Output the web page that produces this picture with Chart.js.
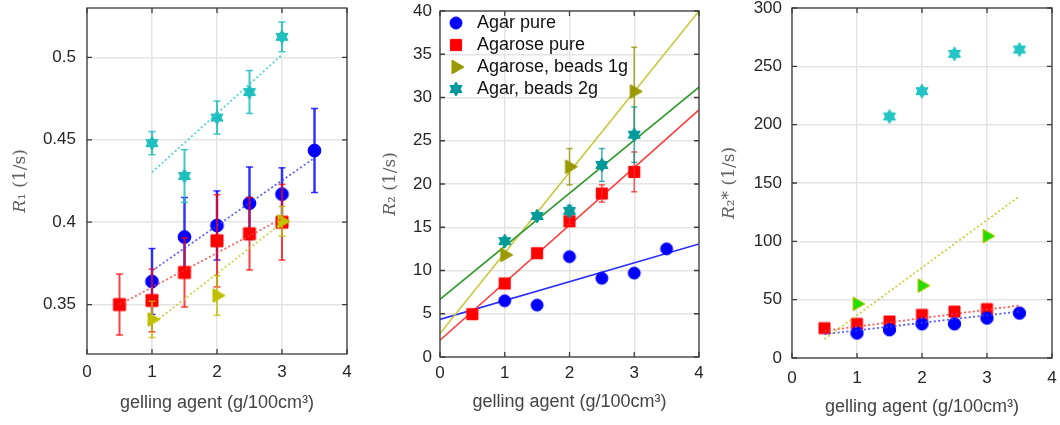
<!DOCTYPE html>
<html>
<head>
<meta charset="utf-8">
<script src="https://cdn.jsdelivr.net/npm/chart.js@4.4.1/dist/chart.umd.min.js"></script>
<style>
  html, body { margin: 0; padding: 0; background: #fff; }
  body { width: 1060px; height: 425px; position: relative; overflow: hidden; }
  canvas { position: absolute; top: 0; }
  #c1 { left: 0; }
  #c2 { left: 355px; }
  #c3 { left: 707px; }
</style>
</head>
<body>
<canvas id="c1" width="355" height="425"></canvas>
<canvas id="c2" width="352" height="425"></canvas>
<canvas id="c3" width="353" height="425"></canvas>
<script>
// ---- data ----
const xTicks = [0, 1, 2, 3, 4];

// left panel: R1
const r1Ticks = [0.35, 0.4, 0.45, 0.5];
const r1AgarX = [1, 1.5, 2, 2.5, 3, 3.5];
const r1AgarY = [0.364, 0.391, 0.398, 0.4115, 0.417, 0.4435];
const r1AgarErr = [0.020, 0.024, 0.021, 0.022, 0.016, 0.0255];
const r1RoseX = [0.5, 1, 1.5, 2, 2.5, 3];
const r1RoseY = [0.350, 0.3525, 0.3695, 0.3887, 0.393, 0.400];
const r1RoseErr = [0.0185, 0.019, 0.021, 0.028, 0.022, 0.023];
const r1Beads1X = [1, 2, 3];
const r1Beads1Y = [0.341, 0.3555, 0.4005];
const r1Beads1Err = [0.011, 0.012, 0.009];
const r1Beads2X = [1, 1.5, 2, 2.5, 3];
const r1Beads2Y = [0.448, 0.428, 0.4635, 0.479, 0.5125];
const r1Beads2Err = [0.007, 0.016, 0.010, 0.013, 0.009];
const r1FitAgar = { x: [1, 3.5], y: [0.3705, 0.4390] };
const r1FitRose = { x: [0.5, 3], y: [0.350, 0.4022] };
const r1FitBeads1 = { x: [1, 3], y: [0.338, 0.3996] };
const r1FitBeads2 = { x: [1, 3], y: [0.4303, 0.5016] };

// middle panel: R2
const r2Ticks = [0, 5, 10, 15, 20, 25, 30, 35, 40];
const r2AgarX = [1, 1.5, 2, 2.5, 3, 3.5];
const r2AgarY = [6.5, 6.0, 11.6, 9.1, 9.7, 12.5];
const r2RoseX = [0.5, 1, 1.5, 2, 2.5, 3];
const r2RoseY = [4.95, 8.5, 12.0, 15.7, 18.9, 21.4];
const r2RoseErr = [0, 0, 0, 0.4, 1.0, 2.3];
const r2Beads1X = [1, 2, 3];
const r2Beads1Y = [11.8, 22.0, 30.7];
const r2Beads1Err = [0, 2.1, 5.1];
const r2Beads2X = [1, 1.5, 2, 2.5, 3];
const r2Beads2Y = [13.4, 16.3, 16.9, 22.2, 25.7];
const r2Beads2Err = [0, 0, 0.6, 1.9, 3.2];
const r2FitAgar = { x: [0, 4], y: [4.35, 13.07] };
const r2FitRose = { x: [0, 4], y: [1.94, 28.57] };
const r2FitBeads1 = { x: [0, 4], y: [2.71, 40.0] };
const r2FitBeads2 = { x: [0, 4], y: [6.67, 31.2] };

// right panel: R2*
const r2sTicks = [0, 50, 100, 150, 200, 250, 300];
const r2sAgarX = [1, 1.5, 2, 2.5, 3, 3.5];
const r2sAgarY = [21.4, 24.2, 29.3, 29.3, 34.2, 38.5];
const r2sRoseX = [0.5, 1, 1.5, 2, 2.5, 3];
const r2sRoseY = [25.6, 29.3, 31.3, 37.0, 39.8, 41.9];
const r2sBeads1X = [1, 2, 3];
const r2sBeads1Y = [46.4, 62.0, 104.5];
const r2sBeads2X = [1.5, 2, 2.5, 3.5];
const r2sBeads2Y = [207, 228.7, 260.7, 264.4];
const r2sFitAgar = { x: [0.5, 3.5], y: [20.5, 39.8] };
const r2sFitRose = { x: [0.5, 3.5], y: [23.3, 45.0] };
const r2sFitBeads1 = { x: [0.5, 3.5], y: [16.2, 138.7] };

// ---- styling helpers ----
const FONT = 'Liberation Sans, Arial, Helvetica, sans-serif';
const SERIF = 'DejaVu Serif, Liberation Serif, serif';
const TICK = '#262626';
const LABEL = '#444444';

// MATLAB-like marker drawn once into a small canvas, used as pointStyle
function marker(shape, r, fill, stroke) {
    const s = Math.ceil(2 * r + 4);
    const c = document.createElement('canvas');
    c.width = c.height = s;
    const g = c.getContext('2d');
    g.translate(s / 2, s / 2);
    g.beginPath();
    if (shape === 'circle') {
        g.arc(0, 0, r, 0, 2 * Math.PI);
    } else if (shape === 'square') {
        g.rect(-r, -r, 2 * r, 2 * r);
    } else if (shape === 'triangle') {
        g.moveTo(r, 0);
        g.lineTo(-r / 2, -r * 0.866);
        g.lineTo(-r / 2, r * 0.866);
        g.closePath();
    } else {
        for (let k = 0; k < 12; k++) {
            const a = -Math.PI / 2 + k * Math.PI / 6;
            const q = k % 2 ? r / Math.sqrt(3) : r;
            g.lineTo(q * Math.cos(a), q * Math.sin(a));
        }
        g.closePath();
    }
    g.fillStyle = fill;
    g.fill();
    g.lineWidth = 1;
    g.strokeStyle = stroke || fill;
    g.stroke();
    return c;
}

const pts = (xs, ys) => xs.map((x, i) => ({ x, y: ys[i] }));

function markSet(label, xs, ys, img, color, order) {
    return {
        label, data: pts(xs, ys), order,
        pointStyle: img, pointRadius: 7,
        backgroundColor: color, borderColor: color
    };
}

function errSet(xs, ys, errs, color, width, cap, order) {
    const data = [];
    xs.forEach((x, i) => {
        if (!errs[i]) return;
        data.push({ x, y: ys[i] - errs[i] }, { x, y: ys[i] + errs[i] }, { x, y: null });
    });
    return {
        data, order, showLine: true, spanGaps: false,
        borderColor: color, borderWidth: width,
        pointStyle: 'line', pointRadius: cap,
        pointBorderColor: color, pointBorderWidth: 1.5
    };
}

function fitSet(fit, color, width, dash, order) {
    return {
        data: pts(fit.x, fit.y), order, showLine: true,
        borderColor: color, borderWidth: width, borderDash: dash,
        pointRadius: 0
    };
}

// box round the plot area with inward ticks on all four sides
const framePlugin = {
    id: 'frame',
    afterDraw(chart) {
        const { ctx, chartArea: a, scales: { x, y } } = chart;
        ctx.save();
        ctx.strokeStyle = '#3c3c3c';
        ctx.lineWidth = 1.3;
        ctx.strokeRect(a.left, a.top, a.width, a.height);
        ctx.beginPath();
        x.ticks.forEach(t => {
            const px = x.getPixelForValue(t.value);
            ctx.moveTo(px, a.bottom); ctx.lineTo(px, a.bottom - 5);
            ctx.moveTo(px, a.top); ctx.lineTo(px, a.top + 5);
        });
        y.ticks.forEach(t => {
            const py = y.getPixelForValue(t.value);
            ctx.moveTo(a.left, py); ctx.lineTo(a.left + 5, py);
            ctx.moveTo(a.right, py); ctx.lineTo(a.right - 5, py);
        });
        ctx.stroke();
        ctx.restore();
    }
};

// a 'chartArea' legend gets top = 0 for vertical lists; pin it to the plot box
const legendInBox = {
    id: 'legendInBox',
    afterLayout(chart) {
        const lg = chart.legend;
        if (!lg || !lg.options.display) return;
        lg.top = chart.chartArea.top - 1;
        lg.bottom = lg.top + lg.height;
    }
};

function panel(id, p) {
    return new Chart(document.getElementById(id), {
        type: 'scatter',
        data: { datasets: p.datasets },
        plugins: [framePlugin, legendInBox],
        options: {
            responsive: false,
            animation: false,
            events: [],
            layout: { padding: { top: p.top, right: p.right, left: 0, bottom: 0 } },
            plugins: {
                legend: p.legend || { display: false },
                tooltip: { enabled: false }
            },
            scales: {
                x: {
                    type: 'linear', min: 0, max: 4,
                    afterBuildTicks: s => { s.ticks = xTicks.map(v => ({ value: v })); },
                    afterFit: s => { s.height = p.xHeight; s.paddingLeft = 0; s.paddingRight = 0; },
                    grid: { color: '#e4e4e4', lineWidth: 1.5, drawTicks: false },
                    border: { display: false },
                    ticks: { color: TICK, font: { family: FONT, size: 17 }, padding: p.xTickPad, maxRotation: 0 },
                    title: {
                        display: true, text: 'gelling agent (g/100cm³)', color: LABEL,
                        font: { family: FONT, size: 18 }, padding: { top: 0, bottom: p.xTitlePad }
                    }
                },
                y: {
                    type: 'linear', min: p.yMin, max: p.yMax,
                    afterBuildTicks: s => { s.ticks = p.yTicks.map(v => ({ value: v })); },
                    afterFit: s => { s.width = p.yWidth; s.paddingTop = 0; s.paddingBottom = 0; },
                    grid: { color: '#e4e4e4', lineWidth: 1.5, drawTicks: false },
                    border: { display: false },
                    ticks: {
                        color: TICK, font: { family: FONT, size: 17 }, padding: p.yTickPad,
                        callback: v => String(+v.toFixed(2))
                    },
                    title: {
                        display: true, text: p.yTitle, color: '#606060',
                        font: { family: SERIF, size: 17 }, padding: { top: p.yTitlePad, bottom: 0 }
                    }
                }
            }
        }
    });
}

// ---- left panel ----
panel('c1', {
    top: 5, right: 6, yWidth: 87, xHeight: 71,
    yMin: 0.32, yMax: 0.53, yTicks: r1Ticks,
    xTickPad: 8, xTitlePad: 11, yTickPad: 11, yTitlePad: 10,
    yTitle: '𝑅₁ (1/s)',
    datasets: [
        errSet(r1AgarX, r1AgarY, r1AgarErr, 'rgba(0,0,255,0.8)', 2.5, 3.5, 12),
        markSet('Agar pure', r1AgarX, r1AgarY, marker('circle', 6.4, '#0000ff'), '#0000ff', 11),
        errSet(r1RoseX, r1RoseY, r1RoseErr, 'rgba(255,0,0,0.75)', 2, 3.5, 10),
        markSet('Agarose pure', r1RoseX, r1RoseY, marker('square', 6, '#ff0000'), '#ff0000', 9),
        errSet(r1Beads1X, r1Beads1Y, r1Beads1Err, 'rgba(190,190,0,0.75)', 2, 3.5, 8),
        markSet('Agarose, beads 1g', r1Beads1X, r1Beads1Y, marker('triangle', 8, '#bfbf00'), '#bfbf00', 7),
        errSet(r1Beads2X, r1Beads2Y, r1Beads2Err, 'rgba(30,190,190,0.85)', 2, 3.5, 6),
        markSet('Agar, beads 2g', r1Beads2X, r1Beads2Y, marker('hexagram', 7, '#1fbfbf'), '#1fbfbf', 5),
        fitSet(r1FitAgar, 'rgba(60,60,255,0.8)', 1.8, [2, 2.4], 4),
        fitSet(r1FitRose, 'rgba(255,60,60,0.8)', 1.8, [2, 2.4], 3),
        fitSet(r1FitBeads1, 'rgba(200,200,40,0.85)', 1.8, [2, 2.4], 2),
        fitSet(r1FitBeads2, 'rgba(60,205,205,0.85)', 1.8, [2, 2.4], 1)
    ]
});

// ---- middle panel ----
panel('c2', {
    top: 11, right: 6, yWidth: 85, xHeight: 68,
    yMin: 0, yMax: 40, yTicks: r2Ticks,
    xTickPad: 6, xTitlePad: 12, yTickPad: 8, yTitlePad: 25,
    yTitle: '𝑅₂ (1/s)',
    legend: {
        display: true,
        position: 'chartArea',
        align: 'start',
        labels: {
            usePointStyle: true,
            pointStyleWidth: 24,
            padding: 4,
            color: '#111',
            font: { family: FONT, size: 18 },
            filter: item => !!item.text,
            sort: (a, b) => a.datasetIndex - b.datasetIndex
        }
    },
    datasets: [
        markSet('Agar pure', r2AgarX, r2AgarY, marker('circle', 6, '#0000ff'), '#0000ff', 5),
        markSet('Agarose pure', r2RoseX, r2RoseY, marker('square', 5.6, '#ff0000'), '#ff0000', 4),
        markSet('Agarose, beads 1g', r2Beads1X, r2Beads1Y, marker('triangle', 8, '#9a9a00'), '#9a9a00', 2),
        markSet('Agar, beads 2g', r2Beads2X, r2Beads2Y, marker('hexagram', 7, '#009a9a'), '#009a9a', 0),
        errSet(r2RoseX, r2RoseY, r2RoseErr, 'rgba(255,40,40,0.8)', 1.5, 3, 3),
        errSet(r2Beads1X, r2Beads1Y, r2Beads1Err, 'rgba(150,150,0,0.8)', 1.5, 3, 1.5),
        errSet(r2Beads2X, r2Beads2Y, r2Beads2Err, 'rgba(0,150,150,0.75)', 1.5, 3, 1),
        fitSet(r2FitAgar, '#2b2bff', 1.6, [], 9),
        fitSet(r2FitRose, '#ff3c3c', 1.6, [], 8),
        fitSet(r2FitBeads1, '#c8c83c', 1.6, [], 7),
        fitSet(r2FitBeads2, '#2f9a2f', 1.6, [], 6)
    ]
});

// ---- right panel ----
panel('c3', {
    top: 7, right: 7, yWidth: 85, xHeight: 67,
    yMin: 0, yMax: 300, yTicks: r2sTicks,
    xTickPad: 10, xTitlePad: 7, yTickPad: 10, yTitlePad: 12,
    yTitle: '𝑅₂* (1/s)',
    datasets: [
        markSet('Agarose pure', r2sRoseX, r2sRoseY, marker('square', 5.5, '#ff0000'), '#ff0000', 7),
        markSet('Agar pure', r2sAgarX, r2sAgarY, marker('circle', 6.2, '#0000ff'), '#0000ff', 6),
        markSet('Agarose, beads 1g', r2sBeads1X, r2sBeads1Y, marker('triangle', 8, '#22dd00', '#c8c800'), '#22dd00', 5),
        markSet('Agar, beads 2g', r2sBeads2X, r2sBeads2Y, marker('hexagram', 7, '#22c4c4'), '#22c4c4', 4),
        fitSet(r2sFitRose, 'rgba(255,60,60,0.85)', 1.8, [2, 2.4], 3),
        fitSet(r2sFitAgar, 'rgba(60,60,255,0.85)', 1.8, [2, 2.4], 2),
        fitSet(r2sFitBeads1, 'rgba(200,200,40,0.9)', 1.8, [2, 2.4], 1)
    ]
});
</script>
</body>
</html>
